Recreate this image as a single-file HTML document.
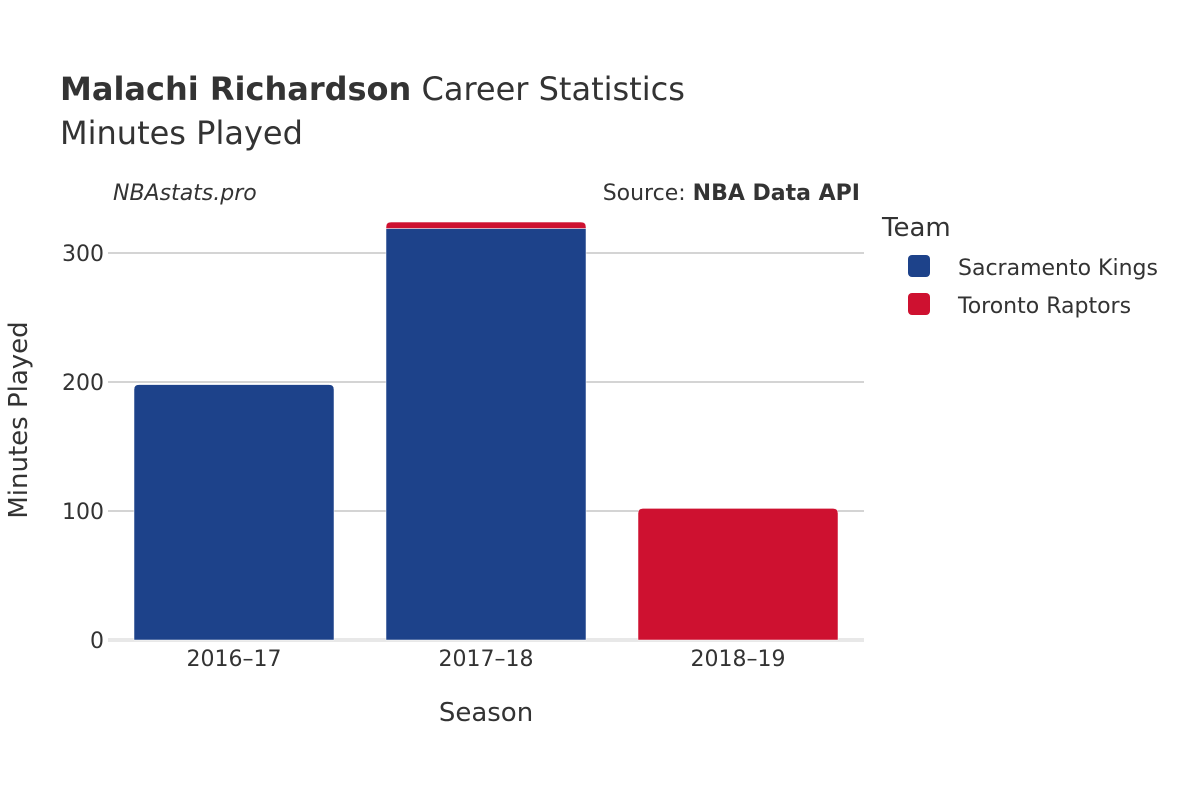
<!DOCTYPE html>
<html><head><meta charset="utf-8"><style>
body{margin:0;background:#fff;}
svg text{font-family:"DejaVu Sans","Liberation Sans",sans-serif;fill:#333;}
</style></head><body>
<svg width="1200" height="800" xmlns="http://www.w3.org/2000/svg">
<text x="60" y="100" font-size="32"><tspan font-weight="bold">Malachi Richardson</tspan> Career Statistics</text>
<text x="60" y="144" font-size="32">Minutes Played</text>
<text x="113" y="200" font-size="22" font-style="italic">NBAstats.pro</text>
<text x="860" y="200" font-size="22" text-anchor="end">Source: <tspan font-weight="bold">NBA Data API</tspan></text>
<g id="grid"></g>
<g id="bars"></g>
<g id="xt"></g>
<text x="486" y="721" font-size="26" text-anchor="middle">Season</text>
<text transform="translate(27,420) rotate(-90)" font-size="26" text-anchor="middle">Minutes Played</text>
<text x="882" y="236" font-size="26">Team</text>
<g><rect x="908" y="255" width="22" height="22" rx="4" fill="#1d428a"/><text x="958" y="275" font-size="22">Sacramento Kings</text></g>
<g><rect x="908" y="293" width="22" height="22" rx="4" fill="#ce1130"/><text x="958" y="313" font-size="22">Toronto Raptors</text></g>
</svg>
<script>
const seasons=["2016–17","2017–18","2018–19"];
const kings=[198,319,0];
const raptors=[0,5,102];
const yTicks=[0,100,200,300];
const NS="http://www.w3.org/2000/svg";
const y=v=>640-v*1.29;
const xc=i=>108+252*(i+0.5);
function mk(t,a,p){const e=document.createElementNS(NS,t);for(const k in a)e.setAttribute(k,a[k]);p.appendChild(e);return e;}
const g=document.getElementById('grid');
yTicks.forEach(v=>{
 const l=mk('line',{x1:108,x2:864,y1:y(v),y2:y(v),stroke:v===0?'#e8e8e8':'#bbb','stroke-width':v===0?4:1.3},g);
 
 
 const t=mk('text',{x:104,y:y(v)+8,'font-size':22,'text-anchor':'end'},g);t.textContent=v;
 
 
});
const b=document.getElementById('bars');
function bar(x,y0,y1,c,round,name){
 const h=y0-y1; if(h<=0)return;
 const r=round?Math.min(5,h):0;
 const d=`M${x},${y0}V${y1+r}Q${x},${y1} ${x+r},${y1}H${x+200-r}Q${x+200},${y1} ${x+200},${y1+r}V${y0}Z`;
 const p=mk('path',{d:d,fill:c,stroke:'#fff','stroke-width':0.5},b);
 
 
}
seasons.forEach((s,i)=>{
 const x=xc(i)-100;
 bar(x,y(0),y(kings[i]),'#1d428a',raptors[i]===0,'bar-kings-'+s);
 bar(x,y(kings[i]),y(kings[i]+raptors[i]),'#ce1130',true,'bar-raptors-'+s);
 const t=mk('text',{x:xc(i),y:666,'font-size':22,'text-anchor':'middle'},document.getElementById('xt'));t.textContent=s;
 
 
});
</script>
</body></html>
